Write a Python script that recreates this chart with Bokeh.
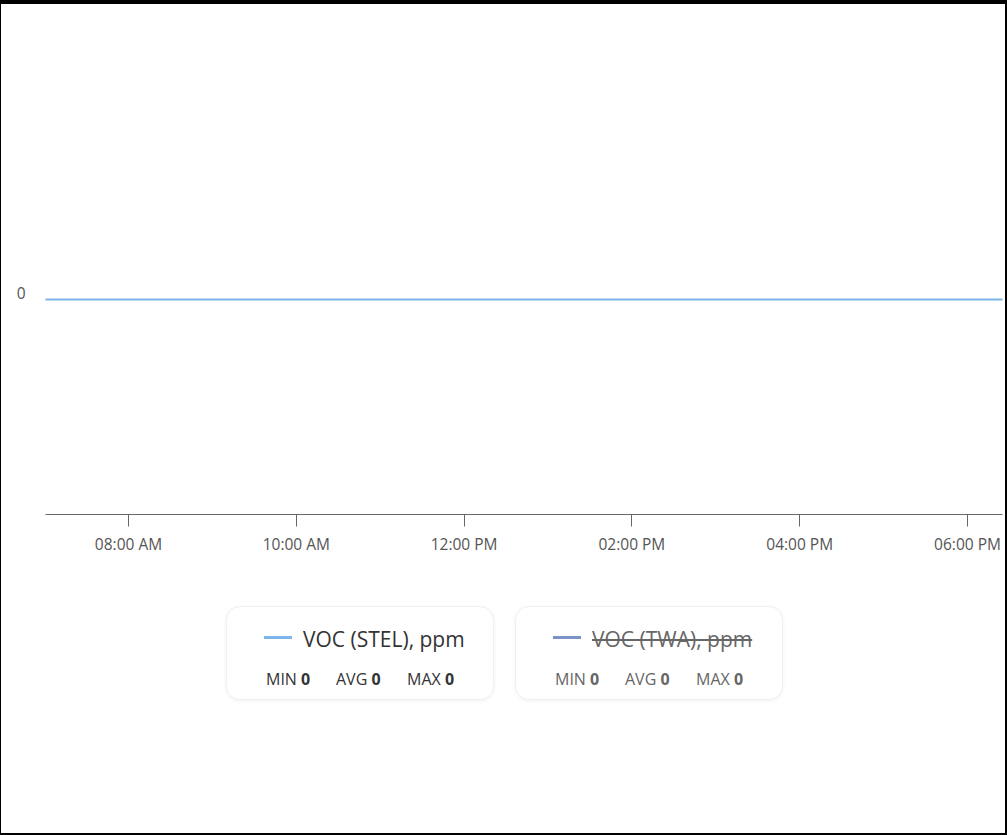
from bokeh.plotting import figure
from bokeh.models import FixedTicker, Range1d, Div, LinearAxis
from bokeh.layouts import column
from bokeh.embed import file_html
from bokeh.resources import INLINE

# ---- data ----
hours = [7.0, 8.0, 9.0, 10.0, 11.0, 12.0, 13.0, 14.0, 15.0, 16.0, 17.0, 18.0, 18.5]
stel_ppm = [0, 0, 0, 0, 0, 0, 0, 0, 0, 0, 0, 0, 0]
tick_hours = [8, 10, 12, 14, 16, 18]
tick_labels = ["08:00 AM", "10:00 AM", "12:00 PM", "02:00 PM", "04:00 PM", "06:00 PM"]
y_ticks = [0]
y_tick_labels = ["0"]
series_names = ["VOC (STEL), ppm", "VOC (TWA), ppm"]
series_colors = ["#7cb5ec", "#7b93c6"]
series_hidden = [False, True]
stat_names = ["MIN", "AVG", "MAX"]
stat_values = [[0, 0, 0], [0, 0, 0]]

FONT = "Open Sans"
X_START, X_END = 7.0107, 18.417

p = figure(width=1007, height=568, output_backend="svg", toolbar_location=None,
           x_range=Range1d(X_START, X_END), y_range=Range1d(-1, 1),
           y_axis_location=None,
           min_border_left=45, min_border_right=5, min_border_top=84, min_border_bottom=54)
p.outline_line_color = None
p.grid.visible = False
p.background_fill_color = "white"
p.border_fill_color = "white"

p.line(hours, stel_ppm, line_color=series_colors[0], line_width=2)

xa = p.xaxis[0]
xa.ticker = FixedTicker(ticks=tick_hours)
xa.major_label_overrides = {t: l for t, l in zip(tick_hours, tick_labels)}
xa.axis_line_color = "#666666"
xa.major_tick_line_color = "#666666"
xa.major_tick_out = 12
xa.major_tick_in = 0
xa.minor_tick_line_color = None
xa.major_label_text_font = FONT
xa.major_label_text_font_size = "15.5px"
xa.major_label_text_color = "#555555"
xa.major_label_standoff = 6

# y labels sit just above their grid value (label baseline on the line)
p.extra_y_ranges = {"ylab": Range1d(-1.028, 0.972)}
ya = LinearAxis(y_range_name="ylab", ticker=FixedTicker(ticks=y_ticks),
                major_label_overrides={t: l for t, l in zip(y_ticks, y_tick_labels)})
ya.axis_line_color = None
ya.major_tick_line_color = None
ya.minor_tick_line_color = None
ya.major_tick_out = 0
ya.major_tick_in = 0
ya.major_label_text_font = FONT
ya.major_label_text_font_size = "15.5px"
ya.major_label_text_color = "#555555"
ya.major_label_standoff = 20
p.add_layout(ya, "left")


def box_html(i, left):
    hidden = series_hidden[i]
    col = "#666666" if hidden else "#333333"
    deco = "line-through" if hidden else "none"
    stat_lefts = [39, 109, 180]
    stats = "".join(
        f'<div style="position:absolute;left:{sl}px;top:62px;line-height:20px;font-size:16px;color:{col};white-space:nowrap;">'
        f'{n} <b>{v}</b></div>'
        for sl, n, v in zip(stat_lefts, stat_names, stat_values[i])
    )
    return (
        f'<div style="position:absolute;left:{left}px;top:38px;width:268px;height:94px;box-sizing:border-box;'
        f'border:1px solid #f0f0f0;border-radius:14px;box-shadow:0 1px 4px rgba(0,0,0,0.05);background:#fff;">'
        f'<div style="position:absolute;left:37px;top:29px;width:28px;height:3px;background:{series_colors[i]};"></div>'
        f'<div style="position:absolute;left:76px;top:19px;line-height:26px;font-size:21px;color:{col};'
        f'text-decoration:{deco};white-space:nowrap;">{series_names[i]}</div>'
        f'{stats}</div>'
    )


frame_html = (
    '<div style="position:fixed;left:0;top:0;width:1007px;height:835px;box-sizing:border-box;'
    'border-top:4px solid #000;border-left:1px solid #000;border-right:2px solid #000;'
    'border-bottom:2px solid #000;pointer-events:none;z-index:10;"></div>'
)

legend_html = (
    f'<div style="position:relative;width:1007px;height:259px;font-family:\'{FONT}\',sans-serif;">'
    + box_html(0, 226) + box_html(1, 515) + frame_html + '</div>'
)
legend = Div(text=legend_html, width=1007, height=259, styles={"margin": "0", "padding": "0"})

layout = column(p, legend, spacing=0)

open("out.html", "w").write(file_html(layout, INLINE))
